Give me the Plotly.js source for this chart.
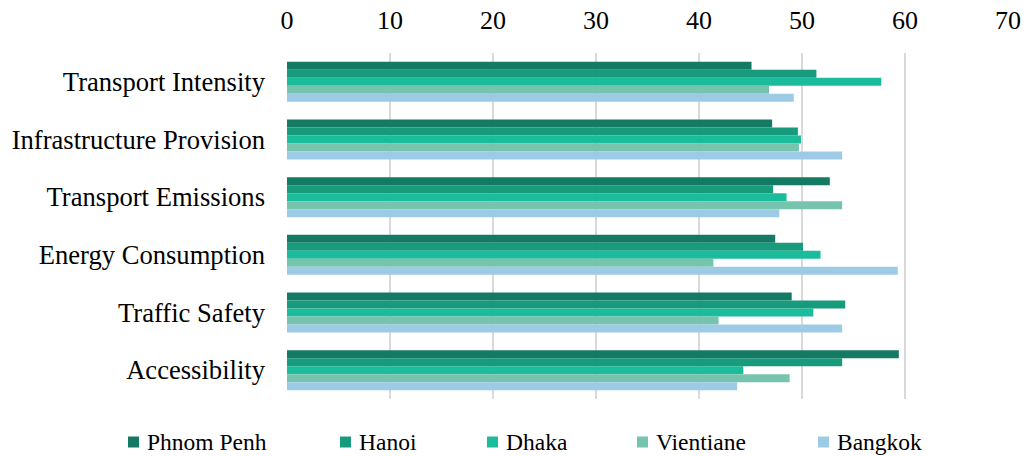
<!DOCTYPE html>
<html>
<head>
<meta charset="utf-8">
<script src="https://cdn.plot.ly/plotly-3.0.1.min.js"></script>
<style>
html,body{margin:0;padding:0;background:#fff;}
#chart{width:1027px;height:456px;}
</style>
</head>
<body>
<div id="chart"></div>
<script>
const categories = ["Transport Intensity", "Infrastructure Provision", "Transport Emissions", "Energy Consumption", "Traffic Safety", "Accessibility"];
const seriesNames = ["Phnom Penh", "Hanoi", "Dhaka", "Vientiane", "Bangkok"];
const phnomPenh = [45.1, 47.1, 52.7, 47.4, 49.0, 59.4];
const hanoi     = [51.4, 49.6, 47.2, 50.1, 54.2, 53.9];
const dhaka     = [57.7, 49.9, 48.5, 51.8, 51.1, 44.3];
const vientiane = [46.8, 49.7, 53.9, 41.4, 41.9, 48.8];
const bangkok   = [49.2, 53.9, 47.8, 59.3, 53.9, 43.7];
const xTicks = [0, 10, 20, 30, 40, 50, 60, 70];

const seriesValues = [phnomPenh, hanoi, dhaka, vientiane, bangkok];
const colors = ["#157a64", "#189a7c", "#1bbc9b", "#77c4ae", "#9dcbe6"];
const legendPx = [128, 340, 487, 637, 818];
const FONT = "Liberation Serif";

const L = 287, R = 1008, W = 1027, T = 53, B = 399;
const pw = R - L, ph = B - T;
const px2x = px => (px - L) / pw;
const py2y = py => (B - py) / ph;

const traces = seriesNames.map((name, i) => ({
  type: "bar",
  orientation: "h",
  name: name,
  x: seriesValues[i],
  y: categories,
  marker: {color: colors[i], line: {width: 0}},
  showlegend: false,
  hoverinfo: "x+name"
}));

const legendY = 442;
const annotations = seriesNames.map((name, i) => ({
  xref: "paper", yref: "paper",
  x: px2x(legendPx[i] + 17), y: py2y(legendY),
  xanchor: "left", yanchor: "middle",
  text: name, showarrow: false,
  font: {family: FONT, size: 23.5, color: "#000"}
}));
const shapes = seriesNames.map((name, i) => ({
  type: "rect", xref: "paper", yref: "paper",
  x0: px2x(legendPx[i]), x1: px2x(legendPx[i] + 11),
  y0: py2y(legendY + 5.5), y1: py2y(legendY - 5.5),
  fillcolor: colors[i], line: {width: 0}
}));

const layout = {
  width: 1027, height: 456,
  margin: {l: L, r: W - R, t: T, b: 456 - B, autoexpand: false},
  paper_bgcolor: "#fff", plot_bgcolor: "#fff",
  barmode: "group",
  bargap: 0.306,
  bargroupgap: 0,
  font: {family: FONT, color: "#000", size: 23.5},
  xaxis: {
    side: "top",
    range: [0, 70],
    tickvals: xTicks,
    ticktext: xTicks.map(String),
    showgrid: true, gridcolor: "#d9d9d9", gridwidth: 2,
    zeroline: false, showline: false, ticks: "",
    tickfont: {family: FONT, size: 26, color: "#000"},
    ticklabelstandoff: 18,
    automargin: false,
    fixedrange: true
  },
  yaxis: {
    autorange: "reversed",
    showgrid: false, zeroline: false, showline: false, ticks: "",
    tickfont: {family: FONT, size: 26.6, color: "#000"},
    ticklabelstandoff: 21,
    automargin: false,
    fixedrange: true
  },
  showlegend: false,
  annotations: annotations,
  shapes: shapes
};

Plotly.newPlot("chart", traces, layout, {displayModeBar: false, staticPlot: true});
</script>
</body>
</html>
